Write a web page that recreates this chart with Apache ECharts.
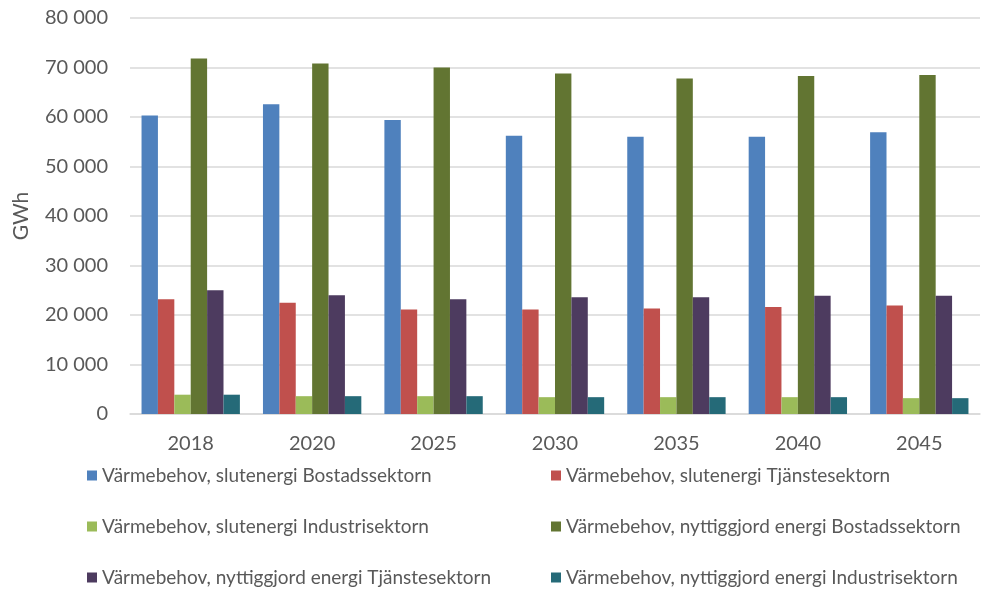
<!DOCTYPE html>
<html>
<head>
<meta charset="utf-8">
<script src="https://cdn.jsdelivr.net/npm/echarts@6/dist/echarts.min.js"></script>
<style>
  html, body { margin: 0; padding: 0; background: #fff; }
  #chart { width: 982px; height: 593px; }
</style>
</head>
<body>
<div id="chart"></div>
<script>
const years = ['2018', '2020', '2025', '2030', '2035', '2040', '2045']
const seriesNames = [
  'Värmebehov, slutenergi Bostadssektorn',
  'Värmebehov, slutenergi Tjänstesektorn',
  'Värmebehov, slutenergi Industrisektorn',
  'Värmebehov, nyttiggjord energi Bostadssektorn',
  'Värmebehov, nyttiggjord energi Tjänstesektorn',
  'Värmebehov, nyttiggjord energi Industrisektorn'
]
const slutBostad = [60300, 62600, 59400, 56200, 56000, 56000, 56900]
const slutTjanst = [23200, 22500, 21100, 21100, 21300, 21600, 21900]
const slutIndustri = [3900, 3600, 3600, 3400, 3400, 3400, 3200]
const nyttBostad = [71800, 70800, 70000, 68800, 67800, 68300, 68500]
const nyttTjanst = [25000, 24000, 23200, 23600, 23600, 23900, 23900]
const nyttIndustri = [3900, 3600, 3600, 3400, 3400, 3400, 3200]

const colors = ['#4f81bd', '#c0504d', '#9bbb59', '#627532', '#4d3b5f', '#256a78']
const values = [slutBostad, slutTjanst, slutIndustri, nyttBostad, nyttTjanst, nyttIndustri]

const font = 'Lato, "Open Sans", sans-serif'
const textColor = '#595959'

function fmt(v) {
  return String(v).replace(/\B(?=(\d{3})+(?!\d))/g, ' ')
}

const chart = echarts.init(document.getElementById('chart'), null, { renderer: 'canvas' })

// legend: 2 columns x 3 rows, one legend per item
const legendLeft = [87, 551]
const legendTop = [466, 517, 568]
const legends = seriesNames.map((name, i) => ({
  left: legendLeft[i % 2],
  top: legendTop[Math.floor(i / 2)],
  padding: 0,
  itemWidth: 10,
  itemHeight: 10,
  itemGap: 0,
  icon: 'rect',
  data: [name],
  textStyle: { color: textColor, fontSize: 19, fontFamily: font, padding: [0, 0, 0, 0] }
}))

chart.setOption({
  animation: false,
  color: colors,
  grid: { left: 130, right: 2, top: 18, bottom: 179 },
  legend: legends,
  xAxis: {
    type: 'category',
    data: years,
    axisLine: { lineStyle: { color: '#d9d9d9', width: 1.5 } },
    axisTick: { show: false },
    axisLabel: { color: textColor, fontSize: 20, fontFamily: font, margin: 20 }
  },
  yAxis: {
    type: 'value',
    min: 0,
    max: 80000,
    interval: 10000,
    name: 'GWh',
    nameLocation: 'middle',
    nameGap: 98,
    nameTextStyle: { color: textColor, fontSize: 21, fontFamily: font },
    axisLine: { show: false },
    axisTick: { show: false },
    splitLine: { lineStyle: { color: '#d9d9d9', width: 1.5 } },
    axisLabel: { color: textColor, fontSize: 20, fontFamily: font, margin: 22, formatter: fmt }
  },
  series: seriesNames.map((name, i) => ({
    name,
    type: 'bar',
    data: values[i],
    barGap: '0%',
    barCategoryGap: '19%',
    itemStyle: { color: colors[i] }
  }))
})
</script>
</body>
</html>
